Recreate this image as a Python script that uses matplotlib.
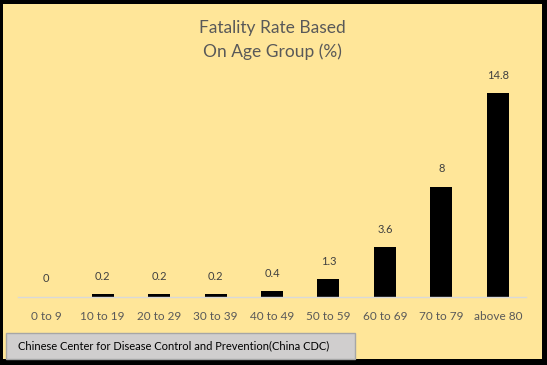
import matplotlib.pyplot as plt
from matplotlib.patches import Rectangle

ages = ['0 to 9', '10 to 19', '20 to 29', '30 to 39', '40 to 49',
        '50 to 59', '60 to 69', '70 to 79', 'above 80']
rates = [0, 0.2, 0.2, 0.2, 0.4, 1.3, 3.6, 8, 14.8]
rate_labels = ['0', '0.2', '0.2', '0.2', '0.4', '1.3', '3.6', '8', '14.8']

W, H = 547, 365
bg = '#FFE699'
plt.rcParams['font.family'] = ['Lato', 'DejaVu Sans']

fig = plt.figure(figsize=(W / 100, H / 100), dpi=100, facecolor='black')

# yellow panel inside the black frame
fig.patches.append(Rectangle((3 / W, 6 / H), 539 / W, 355 / H, transform=fig.transFigure,
                             facecolor=bg, edgecolor='none', zorder=-5))

ax = fig.add_axes([18 / W, 68 / H, 508 / W, 220.5 / H])
ax.set_zorder(3)
ax.set_facecolor('none')
x = range(len(ages))
ax.bar(x, rates, width=0.39, color='black')
for xi, v, lab in zip(x, rates, rate_labels):
    ax.annotate(lab, (xi, v), xytext=(0, 9), textcoords='offset points',
                ha='center', va='bottom', fontsize=8, color='#404040')

ax.set_xlim(-0.5, len(ages) - 0.5)
ax.set_ylim(0, 16)
ax.set_xticks(list(x))
ax.set_xticklabels(ages, fontsize=8.5, color='#595959')
ax.tick_params(axis='x', length=0, pad=10)
ax.set_yticks([])
for s in ['top', 'right', 'left']:
    ax.spines[s].set_visible(False)
ax.spines['bottom'].set_color('#D9D9D9')
ax.spines['bottom'].set_linewidth(1)

fig.text(272 / W, 1 - 40 / H, 'Fatality Rate Based\nOn Age Group (%)', ha='center', va='center',
         fontsize=12.5, color='#595959', linespacing=1.6, zorder=4)

# source box
fig.patches.append(Rectangle((6 / W, 6 / H), 349 / W, 26 / H, transform=fig.transFigure,
                             facecolor='#D0CECE', edgecolor='#A6A6A6', linewidth=1, zorder=1))
fig.text(18 / W, 1 - 346 / H, 'Chinese Center for Disease Control and Prevention(China CDC)',
         ha='left', va='center', fontsize=8, color='black', zorder=4)

fig.savefig('out.png', dpi=100, facecolor=fig.get_facecolor())
